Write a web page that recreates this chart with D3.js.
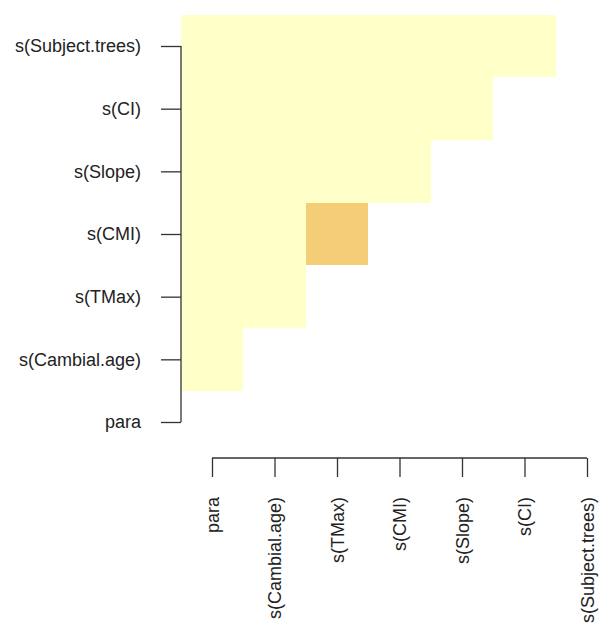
<!DOCTYPE html>
<html>
<head>
<meta charset="utf-8">
<script src="https://cdn.jsdelivr.net/npm/d3@7"></script>
<style>
  body { margin: 0; background: #fff; }
  svg { display: block; }
</style>
</head>
<body>
<div id="chart"></div>
<script>
// model terms, bottom-to-top on y and left-to-right on x
var terms = ["para", "s(Cambial.age)", "s(TMax)", "s(CMI)", "s(Slope)", "s(CI)", "s(Subject.trees)"];

// estimated concurvity, one row per y term, one entry per x term (null = not drawn)
var rowPara        = [null, null, null, null, null, null, null];
var rowCambialAge  = [0.05, null, null, null, null, null, null];
var rowTMax        = [0.05, 0.05, null, null, null, null, null];
var rowCMI         = [0.05, 0.05, 0.45, null, null, null, null];
var rowSlope       = [0.05, 0.05, 0.05, 0.05, null, null, null];
var rowCI          = [0.05, 0.05, 0.05, 0.05, 0.05, null, null];
var rowSubjTrees   = [0.05, 0.05, 0.05, 0.05, 0.05, 0.05, null];
var concurvity = [rowPara, rowCambialAge, rowTMax, rowCMI, rowSlope, rowCI, rowSubjTrees];

var width = 599, height = 628;

var svg = d3.select("#chart")
    .append("svg")
    .attr("width", width)
    .attr("height", height);

var x = d3.scalePoint().domain(terms).range([212, 587]);
var y = d3.scalePoint().domain(terms).range([422, 46]);
var step = x.step();
var stepY = (422 - 46) / (terms.length - 1);

var color = d3.scaleThreshold()
    .domain([0.2])
    .range(["#FFFFC8", "#F5CD76"]);

var cells = [];
concurvity.forEach(function(row, j) {
    row.forEach(function(v, i) {
        if (v !== null) cells.push({ xt: terms[i], yt: terms[j], v: v });
    });
});

svg.append("g")
    .selectAll("rect")
    .data(cells)
    .enter()
    .append("rect")
    .attr("x", function(d) { return x(d.xt) - step / 2; })
    .attr("y", function(d) { return y(d.yt) - stepY / 2; })
    .attr("width", step)
    .attr("height", stepY)
    .attr("shape-rendering", "crispEdges")
    .style("fill", function(d) { return color(d.v); });

var font = "'Liberation Sans', Arial, Helvetica, sans-serif";

// left axis
var yAxis = svg.append("g")
    .attr("transform", "translate(181,0)")
    .call(d3.axisLeft(y).tickSize(20).tickPadding(20));
yAxis.select(".domain").attr("d", "M0," + y(terms[terms.length - 1]) + "V" + y(terms[0]));
yAxis.selectAll("line, .domain").attr("stroke", "#333").attr("stroke-width", 1.3);
yAxis.selectAll("text")
    .attr("font-family", font)
    .attr("font-size", "18px")
    .attr("fill", "#222");

// bottom axis
var xAxis = svg.append("g")
    .attr("transform", "translate(0,458)")
    .call(d3.axisBottom(x).tickSize(19));
xAxis.select(".domain").attr("d", "M" + x(terms[0]) + ",0H" + x(terms[terms.length - 1]));
xAxis.selectAll("line, .domain").attr("stroke", "#333").attr("stroke-width", 1.3);
xAxis.selectAll("text")
    .attr("font-family", font)
    .attr("font-size", "18px")
    .attr("fill", "#222")
    .attr("transform", "rotate(-90)")
    .attr("x", -39)
    .attr("y", 0)
    .attr("dy", "0.35em")
    .style("text-anchor", "end");
</script>
</body>
</html>
